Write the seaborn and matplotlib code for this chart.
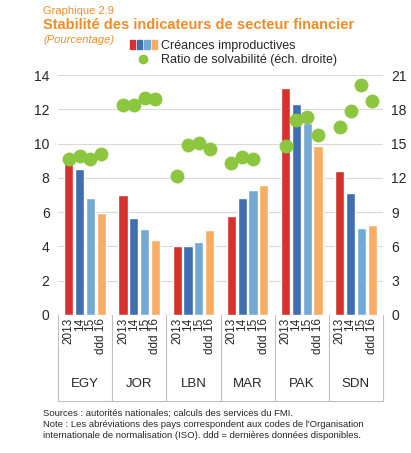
import matplotlib
matplotlib.use("Agg")
import matplotlib.pyplot as plt
import seaborn as sns
import pandas as pd
import numpy as np
from matplotlib.legend_handler import HandlerTuple
from matplotlib.patches import Patch
from matplotlib.lines import Line2D

countries = ["EGY", "JOR", "LBN", "MAR", "PAK", "SDN"]
years = ["2013", "14", "15", "ddd 16"]
npl = {
    "2013":   [8.9, 7.0, 4.0, 5.8, 13.25, 8.4],
    "14":     [8.5, 5.65, 4.0, 6.8, 12.3, 7.1],
    "15":     [6.8, 5.0, 4.25, 7.3, 11.2, 5.1],
    "ddd 16": [5.95, 4.4, 4.95, 7.6, 9.85, 5.25],
}
car = {
    "2013":   [13.7, 18.4, 12.2, 13.3, 14.8, 16.5],
    "14":     [13.9, 18.4, 14.9, 13.8, 17.1, 17.9],
    "15":     [13.7, 19.0, 15.1, 13.7, 17.3, 20.1],
    "ddd 16": [14.1, 18.9, 14.5, np.nan, 15.8, 18.7],
}
bar_colors = ["#d7312b", "#3f6fb0", "#74a9d4", "#f8ad63"]
green = "#8cc63f"
orange = "#f08c2a"

rows = []
for y in years:
    for i, c in enumerate(countries):
        rows.append({"country": c, "year": y, "npl": npl[y][i], "car": car[y][i]})
df = pd.DataFrame(rows)

sns.set_style("white")
plt.rcParams['font.family'] = ['Liberation Sans', 'DejaVu Sans']
fig = plt.figure(figsize=(4.11, 4.53), dpi=100)
ax = fig.add_axes([0.141, 0.305, 0.791, 0.529])
sns.barplot(data=df, x="country", y="npl", hue="year", order=countries,
            hue_order=years, palette=bar_colors, width=0.8, gap=0.15,
            saturation=1, ax=ax, legend=False)
ax2 = ax.twinx()
sns.stripplot(data=df, x="country", y="car", hue="year", order=countries,
              hue_order=years, palette=[green]*4, dodge=True, jitter=False,
              size=10, ax=ax2, legend=False, zorder=5)
ax.set_xlim(-0.5, 5.5)
ax.set_ylim(0, 14)
ax2.set_ylim(0, 21)
ax.set_yticks(range(0, 15, 2))
ax2.set_yticks(range(0, 22, 3))
for a in (ax, ax2):
    a.set_xlabel(""); a.set_ylabel("")
    for s in a.spines.values():
        s.set_visible(False)
    a.tick_params(axis="y", length=0, labelsize=10, pad=6)
ax.yaxis.grid(True, color="#d9d9d9", lw=0.8)
ax.set_axisbelow(True)
ax.axhline(0, color="#bfbfbf", lw=0.8)

offs = [-0.3, -0.1, 0.1, 0.3]
ax.set_xticks([i + o for i in range(6) for o in offs])
ax.set_xticklabels(years * 6, rotation=90, fontsize=8.5)
ax.tick_params(axis="x", length=0, pad=2)
tr = ax.get_xaxis_transform()
for k in range(7):
    ax.plot([k - 0.5, k - 0.5], [0, -0.36], transform=tr, color="#bfbfbf", lw=0.8, clip_on=False)
ax.plot([-0.5, 5.5], [-0.36, -0.36], transform=tr, color="#bfbfbf", lw=0.8, clip_on=False)
for i, c in enumerate(countries):
    ax.text(i, -0.29, c, transform=tr, ha="center", va="center", fontsize=9.5)

h1 = tuple(Patch(color=col) for col in bar_colors)
h2 = Line2D([], [], marker="o", ls="", color=green, markersize=6)
fig.legend([h1, h2], ["Créances improductives", "Ratio de solvabilité (éch. droite)"],
           handler_map={tuple: HandlerTuple(ndivide=None, pad=0.15)},
           loc="upper left", bbox_to_anchor=(0.3, 0.925), frameon=False,
           fontsize=9, handlelength=2.2, handletextpad=0.3, labelspacing=0.15,
           borderpad=0)

fig.text(0.105, 0.975, "Graphique 2.9", color=orange, fontsize=8, va="center")
fig.text(0.105, 0.945, "Stabilité des indicateurs de secteur financier", color=orange,
         fontsize=10.5, fontweight="bold", va="center")
fig.text(0.105, 0.912, "(Pourcentage)", color=orange, fontsize=8, style="italic", va="center")
fig.text(0.105, 0.063, "Sources : autorités nationales; calculs des services du FMI.\n"
         "Note : Les abréviations des pays correspondent aux codes de l'Organisation\n"
         "internationale de normalisation (ISO). ddd = dernières données disponibles.",
         fontsize=6.8, va="center", linespacing=1.3)
fig.savefig("out.png", dpi=100, facecolor="white")
